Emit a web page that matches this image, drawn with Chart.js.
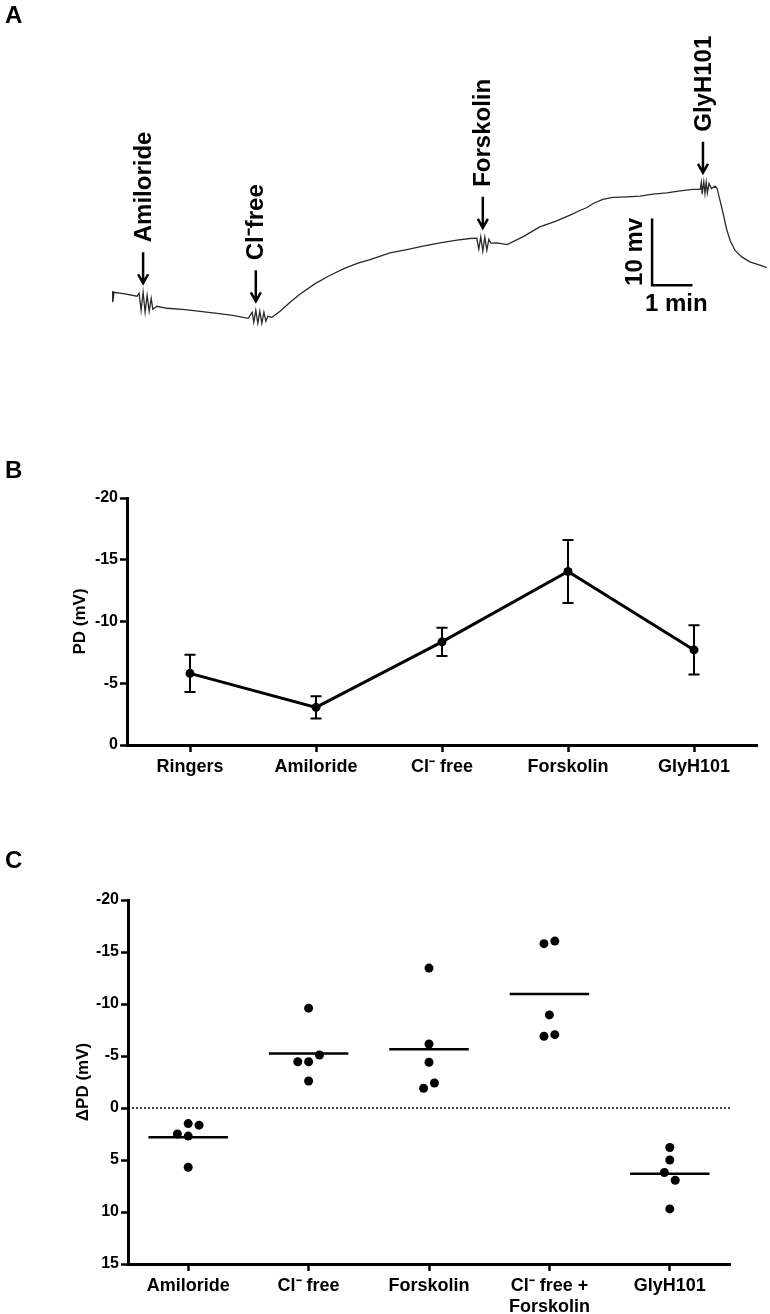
<!DOCTYPE html>
<html>
<head>
<meta charset="utf-8">
<script src="https://cdn.jsdelivr.net/npm/chart.js@4"></script>
<style>
  body { margin: 0; background: #fff; }
  #page { position: relative; width: 770px; height: 1314px; overflow: hidden; font-family: "Liberation Sans", Arial, sans-serif; }
  .panel { position: absolute; left: 0; }
  .letter { position: absolute; left: 5px; font-weight: bold; font-size: 24px; line-height: 1; }
</style>
</head>
<body>
<div id="page">
  <canvas class="panel" id="chartA" width="770" height="370" style="top:0"></canvas>
  <canvas class="panel" id="chartB" width="770" height="360" style="top:440px"></canvas>
  <canvas class="panel" id="chartC" width="770" height="474" style="top:840px"></canvas>
  <div class="letter" style="top:3px">A</div>
  <div class="letter" style="top:458px">B</div>
  <div class="letter" style="top:848px">C</div>
</div>
<script>
// panel A: transepithelial PD trace (time in min, PD in mV, up = more negative PD)
const traceTime = [0.00, 0.02, 0.05, 0.32, 0.62, 0.67, 0.72, 0.77, 0.82, 0.87, 0.92, 0.97, 1.01, 1.11, 1.36, 1.81,
  2.18, 2.60, 2.99, 3.37, 3.47, 3.51, 3.56, 3.61, 3.66, 3.71, 3.76, 3.81, 3.86, 3.96, 4.16, 4.41, 4.65,
  5.02, 5.40, 5.77, 6.09, 6.39, 6.88, 7.30, 7.70, 8.12, 8.54, 8.86, 9.03, 9.08, 9.13, 9.18, 9.23, 9.28,
  9.33, 9.38, 9.53, 9.78, 10.17, 10.59, 11.01, 11.34, 11.58, 11.76, 11.91, 12.15, 12.40, 12.75, 13.07,
  13.39, 13.74, 14.06, 14.38, 14.56, 14.59, 14.61, 14.65, 14.68, 14.71, 14.74, 14.78, 14.84, 14.93, 14.98,
  15.05, 15.13, 15.21, 15.30, 15.42, 15.59, 15.79, 16.04, 16.21];
const traceMv = [0.35, -1.35, 0.15, -0.10, -0.45, 0.00, -2.55, 0.15, -2.85, -0.30, -2.70, -0.75, -2.40, -1.95, -2.25, -2.45,
  -2.70, -3.00, -3.30, -3.75, -2.85, -4.35, -2.55, -4.50, -2.70, -4.50, -2.85, -4.20, -3.45, -3.60, -2.70, -1.35, -0.15,
  1.40, 2.70, 3.75, 4.50, 5.05, 6.05, 6.55, 7.05, 7.55, 7.95, 8.20, 8.25, 6.60, 8.45, 6.30, 8.40, 6.45,
  8.10, 7.50, 7.55, 7.30, 8.45, 9.95, 10.85, 11.70, 12.40, 12.85, 13.45, 14.05, 14.35, 14.45, 14.55,
  14.85, 15.05, 15.35, 15.55, 15.55, 16.60, 14.85, 16.70, 14.95, 16.65, 15.05, 16.45, 15.70, 16.05, 15.70,
  13.95, 11.95, 9.70, 7.95, 6.45, 5.45, 4.70, 4.20, 3.85];
const eventNames = ["Amiloride", "Cl\u207Bfree", "Forskolin", "GlyH101"];
const eventTimes = [0.77, 3.56, 9.18, 14.63];
const scaleBarMv = 10;
const scaleBarMin = 1;

// panel B: mean PD +/- SEM
const pdLabels = ["Ringers", "Amiloride", "Cl\u207B free", "Forskolin", "GlyH101"];
const pdMean = [-5.8, -3.05, -8.35, -14.05, -7.7];
const pdSem = [1.5, 0.9, 1.15, 2.55, 2.0];

// panel C: individual delta PD values
const dpdLabels = ["Amiloride", "Cl\u207B free", "Forskolin", ["Cl\u207B free +", "Forskolin"], "GlyH101"];
const dpdValues = [
  [1.5, 1.65, 2.5, 2.7, 5.7],
  [-9.6, -5.1, -4.45, -4.45, -2.6],
  [-13.45, -6.15, -4.4, -2.4, -1.9],
  [-15.8, -16.05, -8.95, -7.05, -6.9],
  [3.8, 5.0, 6.2, 6.95, 9.7]
];
const dpdJitter = [
  [0, 0.09, -0.09, 0, 0],
  [0, 0.09, -0.09, 0, 0],
  [0, 0, 0, 0.045, -0.045],
  [-0.045, 0.045, 0, 0.045, -0.045],
  [0, 0, -0.045, 0.045, 0]
];

const FONT = "'Liberation Sans', Arial, sans-serif";
Chart.defaults.font.family = FONT;
Chart.defaults.color = "#000";

// ---- panel A ----
const traceAnnotations = {
  id: "traceAnnotations",
  afterDatasetsDraw(chart) {
    const ctx = chart.ctx, xs = chart.scales.x, ys = chart.scales.y;
    ctx.save();
    ctx.fillStyle = "#000";
    ctx.strokeStyle = "#000";
    ctx.font = "bold 24px " + FONT;
    eventTimes.forEach(function (t, k) {
      let top = -Infinity;
      traceTime.forEach(function (tt, i) {
        if (Math.abs(tt - t) <= 0.35) top = Math.max(top, traceMv[i]);
      });
      const x = xs.getPixelForValue(t);
      const tip = ys.getPixelForValue(top) - 9;
      const tail = tip - 31;
      ctx.lineWidth = 2.5;
      ctx.beginPath();
      ctx.moveTo(x, tail);
      ctx.lineTo(x, tip - 1);
      ctx.moveTo(x - 5, tip - 9);
      ctx.lineTo(x, tip);
      ctx.lineTo(x + 5, tip - 9);
      ctx.stroke();
      ctx.save();
      ctx.translate(x + 1, tail - 10);
      ctx.rotate(-Math.PI / 2);
      ctx.textAlign = "left";
      ctx.textBaseline = "middle";
      ctx.fillText(eventNames[k], 0, 0);
      ctx.restore();
    });
    // scale bar labels
    const bar = chart.data.datasets[1].data;
    const bx = xs.getPixelForValue(bar[1].x);
    const by = ys.getPixelForValue(bar[1].y);
    const byTop = ys.getPixelForValue(bar[0].y);
    const bxRight = xs.getPixelForValue(bar[2].x);
    ctx.save();
    ctx.translate(bx - 17, (by + byTop) / 2);
    ctx.rotate(-Math.PI / 2);
    ctx.textAlign = "center";
    ctx.textBaseline = "middle";
    ctx.fillText("10 mv", 0, 0);
    ctx.restore();
    ctx.textAlign = "center";
    ctx.textBaseline = "middle";
    ctx.fillText("1 min", (bx + bxRight) / 2 + 4, by + 19);
    ctx.restore();
  }
};

const barX = 13.37, barY = 1.2;
new Chart(document.getElementById("chartA"), {
  type: "line",
  data: {
    datasets: [
      {
        data: traceTime.map(function (t, i) { return { x: t, y: traceMv[i] }; }),
        borderColor: "#2a2a2a",
        borderWidth: 1.3,
        pointRadius: 0,
        tension: 0
      },
      {
        data: [
          { x: barX, y: barY + scaleBarMv },
          { x: barX, y: barY },
          { x: barX + scaleBarMin, y: barY }
        ],
        borderColor: "#000",
        borderWidth: 2.5,
        pointRadius: 0,
        tension: 0
      }
    ]
  },
  options: {
    responsive: false,
    animation: false,
    layout: { padding: { left: 112, right: 2, top: 93, bottom: 10 } },
    plugins: { legend: { display: false }, tooltip: { enabled: false } },
    scales: {
      x: { type: "linear", display: false, min: 0, max: 16.24 },
      y: { display: false, min: -10, max: 30 }
    }
  },
  plugins: [traceAnnotations]
});

// ---- panel B ----
const errorBars = {
  id: "errorBars",
  afterDatasetsDraw(chart) {
    const ctx = chart.ctx, xs = chart.scales.x, ys = chart.scales.y;
    ctx.save();
    ctx.strokeStyle = "#000";
    ctx.lineWidth = 2;
    pdMean.forEach(function (m, i) {
      const x = xs.getPixelForValue(i);
      const y1 = ys.getPixelForValue(m - pdSem[i]);
      const y2 = ys.getPixelForValue(m + pdSem[i]);
      ctx.beginPath();
      ctx.moveTo(x, y1); ctx.lineTo(x, y2);
      ctx.moveTo(x - 5.5, y1); ctx.lineTo(x + 5.5, y1);
      ctx.moveTo(x - 5.5, y2); ctx.lineTo(x + 5.5, y2);
      ctx.stroke();
    });
    ctx.restore();
  }
};

function axisGrid() {
  return { display: true, drawOnChartArea: false, offset: false, tickLength: 7, tickWidth: 2.5, tickColor: "#000" };
}

new Chart(document.getElementById("chartB"), {
  type: "line",
  data: {
    labels: pdLabels,
    datasets: [{
      data: pdMean,
      borderColor: "#000",
      borderWidth: 3,
      pointRadius: 4.5,
      pointBackgroundColor: "#000",
      pointBorderWidth: 0,
      tension: 0
    }]
  },
  options: {
    responsive: false,
    animation: false,
    layout: { padding: { left: 0, right: 13, top: 58, bottom: 0 } },
    plugins: { legend: { display: false }, tooltip: { enabled: false } },
    scales: {
      x: {
        offset: true,
        grid: axisGrid(),
        border: { color: "#000", width: 3 },
        ticks: { color: "#000", font: { size: 18, weight: "bold" }, padding: 4, maxRotation: 0, autoSkip: false },
        afterFit: function (s) { s.height = 55; }
      },
      y: {
        reverse: true,
        min: -20,
        max: 0,
        grid: axisGrid(),
        border: { color: "#000", width: 3 },
        ticks: { stepSize: 5, color: "#000", font: { size: 16, weight: "bold" }, padding: 2 },
        title: { display: true, text: "PD (mV)", color: "#000", font: { size: 17, weight: "bold" }, padding: { top: 70, bottom: 0 } },
        afterFit: function (s) { s.width = 127; }
      }
    }
  },
  plugins: [errorBars]
});

// ---- panel C ----
const groupPoints = [];
dpdValues.forEach(function (vals, g) {
  vals.forEach(function (v, i) {
    groupPoints.push({ x: g + 1 + dpdJitter[g][i], y: v });
  });
});
const meanLines = dpdValues.map(function (vals, g) {
  const m = vals.reduce(function (a, b) { return a + b; }, 0) / vals.length;
  return {
    type: "line",
    data: [{ x: g + 1 - 0.33, y: m }, { x: g + 1 + 0.33, y: m }],
    borderColor: "#000",
    borderWidth: 2.5,
    pointRadius: 0
  };
});

new Chart(document.getElementById("chartC"), {
  type: "scatter",
  data: {
    datasets: [
      {
        type: "line",
        data: [{ x: 0.5, y: 0 }, { x: 5.5, y: 0 }],
        borderColor: "#000",
        borderWidth: 1.5,
        borderDash: [2, 2],
        pointRadius: 0
      },
      {
        data: groupPoints,
        pointRadius: 4.5,
        pointBackgroundColor: "#000",
        pointBorderWidth: 0
      }
    ].concat(meanLines)
  },
  options: {
    responsive: false,
    animation: false,
    layout: { padding: { left: 0, right: 40, top: 60, bottom: 0 } },
    plugins: { legend: { display: false }, tooltip: { enabled: false } },
    scales: {
      x: {
        type: "linear",
        min: 0.5,
        max: 5.5,
        grid: axisGrid(),
        border: { color: "#000", width: 3 },
        afterBuildTicks: function (s) {
          s.ticks = dpdLabels.map(function (_, i) { return { value: i + 1 }; });
        },
        ticks: {
          color: "#000",
          font: { size: 18, weight: "bold" },
          padding: 4,
          maxRotation: 0,
          autoSkip: false,
          callback: function (value) { return dpdLabels[value - 1]; }
        },
        afterFit: function (s) { s.height = 50; }
      },
      y: {
        reverse: true,
        min: -20,
        max: 15,
        grid: axisGrid(),
        border: { color: "#000", width: 3 },
        ticks: { stepSize: 5, color: "#000", font: { size: 16, weight: "bold" }, padding: 2 },
        title: { display: true, text: "\u0394PD (mV)", color: "#000", font: { size: 17, weight: "bold" }, padding: { top: 73, bottom: 0 } },
        afterFit: function (s) { s.width = 128; }
      }
    }
  }
});
</script>
</body>
</html>
